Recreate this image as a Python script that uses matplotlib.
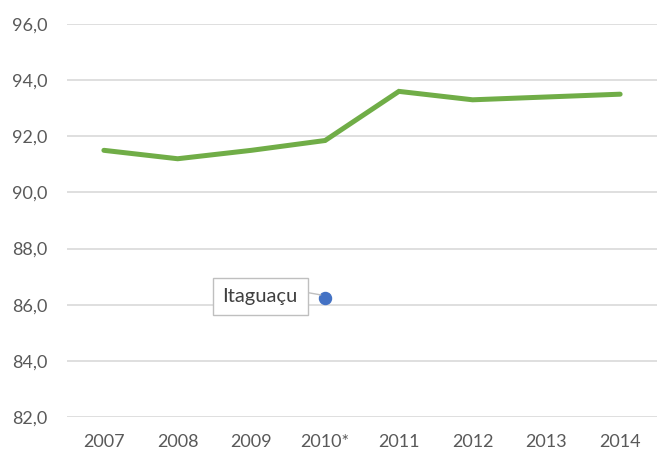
import matplotlib
matplotlib.use("Agg")
import matplotlib.pyplot as plt
from matplotlib.ticker import FuncFormatter

plt.rcParams['font.family'] = ['Lato', 'DejaVu Sans']

# data
years = ["2007", "2008", "2009", "2010*", "2011", "2012", "2013", "2014"]
state_values = [91.5, 91.2, 91.5, 91.85, 93.6, 93.3, 93.4, 93.5]
city_label = "Itaguaçu"
city_year_idx = 3
city_value = 86.25

fig = plt.figure(figsize=(6.57, 4.53), dpi=100)
ax = fig.add_axes([0.102, 0.0795, 0.898, 0.8675])

x = list(range(len(years)))
ax.plot(x, state_values, color="#70AD47", linewidth=3.6, solid_capstyle="round",
        solid_joinstyle="miter", zorder=3)
ax.scatter([city_year_idx], [city_value], s=75, color="#4472C4", zorder=4)

# callout label
ax.annotate(city_label, xy=(city_year_idx - 0.06, city_value + 0.1),
            xytext=(city_year_idx - 0.88, city_value + 0.03),
            fontsize=14.5, color="#404040", ha="center", va="center",
            bbox=dict(boxstyle="square,pad=0.5", fc="white", ec="#BFBFBF", lw=1),
            arrowprops=dict(arrowstyle="-", color="#BFBFBF", lw=1,
                            shrinkA=0, shrinkB=0, relpos=(1.0, 0.85)),
            zorder=5)

ax.set_xlim(-0.5, len(years) - 0.5)
ax.set_ylim(82, 96)
ax.set_yticks([82, 84, 86, 88, 90, 92, 94, 96])
ax.yaxis.set_major_formatter(FuncFormatter(lambda v, p: f"{v:.1f}".replace(".", ",")))
ax.set_xticks(x)
ax.set_xticklabels(years)

ax.grid(axis="y", color="#D9D9D9", linewidth=1.2)
ax.set_axisbelow(True)
for s in ax.spines.values():
    s.set_visible(False)
ax.tick_params(axis="both", length=0, labelsize=13, colors="#595959")
ax.tick_params(axis="y", pad=14)
ax.tick_params(axis="x", pad=12)

fig.savefig("out.png", dpi=100)
